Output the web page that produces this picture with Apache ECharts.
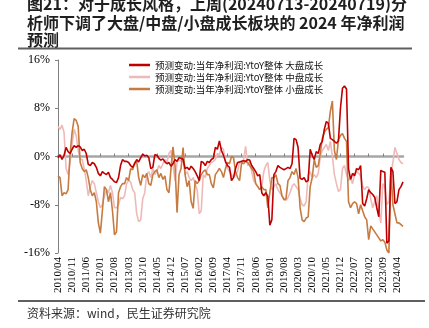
<!DOCTYPE html>
<html><head><meta charset="utf-8">
<script src="https://cdn.jsdelivr.net/npm/echarts@6/dist/echarts.min.js"></script>
<style>html,body{margin:0;padding:0;background:#fff}#c{width:429px;height:328px}</style>
</head><body><div id="c"></div>
<script>
const titleLines = ['图21：对于成长风格，上周(20240713-20240719)分', '析师下调了大盘/中盘/小盘成长板块的 2024 年净利润', '预测'];
const sourceText = '资料来源：wind，民生证券研究院';
const seriesNames = ['预测变动:当年净利润:YtoY整体 大盘成长', '预测变动:当年净利润:YtoY整体 中盘成长', '预测变动:当年净利润:YtoY整体 小盘成长'];
const yTicks = [-16, -8, 0, 8, 16];

// monthly categories 2010/04 .. 2024/07
const months = [];
for (let y = 2010, m = 4; months.length < 172; m++) {
  if (m > 12) { m = 1; y++; }
  months.push(y + '/' + (m < 10 ? '0' + m : m));
}

const largeGrowth = [
-0.2,0.3,-0.5,0.2,1.5,0.8,0.5,1.2,1.8,1.5,1.8,1.6,1.0,1.2,0.5,-1.3,-1.5,-1.0,-1.2,-1.8,
-2.8,-3.2,-2.5,-2.8,-3.0,-2.6,-3.5,-3.8,-4.2,-4.3,-3.5,-1.5,-0.5,-0.8,-0.8,-1.0,-1.5,-1.8,-1.2,-0.5,
-0.9,-0.2,0.4,0.1,0.2,-0.2,-2.0,-1.8,0.3,0.2,-0.3,-0.6,-0.4,-0.9,-1.2,-1.0,-1.6,-1.2,-0.5,-0.8,
-0.2,-0.3,-0.5,-2.0,-1.8,-2.2,-1.6,-2.0,-2.5,-3.2,-4.0,-0.8,-1.0,-1.5,-0.8,-1.0,-0.5,-0.3,1.5,1.2,
2.6,1.0,0.2,-0.8,-1.5,-1.8,-4.0,-3.5,-2.0,-1.0,-0.9,-0.8,-0.7,-0.8,-0.5,-0.6,-1.5,-2.0,-2.5,-3.2,
-3.0,-6.0,-6.5,-6.0,-6.6,-11.4,-10.5,-3.0,-2.5,-1.5,-1.8,-2.0,-2.2,-2.0,-1.8,-2.0,-1.2,3.0,2.8,1.5,
-3.6,-3.8,-3.5,-4.2,-4.0,1.2,0.2,-0.5,0.8,0.5,2.0,2.5,4.5,5.8,5.5,3.0,2.8,2.5,2.2,2.6,
8.0,11.3,11.7,11.2,-2.0,-3.8,-2.8,-3.2,-2.0,-2.2,-1.5,-7.8,-8.2,-7.0,-5.5,-6.0,-6.3,-6.8,-8.5,-10.0,
-2.3,-2.5,-2.6,-14.4,-14.0,-1.8,-2.5,-7.8,-7.5,-5.5,-5.0,-4.2
];
const midGrowth = [
5.0,4.5,5.2,4.0,-2.0,-3.0,-1.0,2.0,4.5,3.5,1.0,-0.5,-0.5,-2.0,-4.0,-6.5,-5.0,-4.0,-4.5,-6.0,
-7.5,-8.5,-8.0,-6.5,-5.5,-6.0,-4.8,-6.0,-8.5,-8.5,-8.0,-6.8,-7.0,-6.5,-4.5,-4.0,-4.2,-5.5,-6.0,-9.5,
-10.8,-10.5,-7.0,-6.0,-3.0,-2.5,-3.5,-2.0,-3.0,-2.5,-1.5,-2.0,-1.2,-0.5,-1.0,0.5,1.0,-1.5,-4.0,-1.0,
-0.5,-0.8,-0.3,-3.0,-2.5,-3.5,-4.0,-3.5,-4.5,-5.6,-9.5,-9.0,-3.0,-3.5,-2.0,-1.5,-1.0,-0.8,-0.5,0.5,
0.3,1.5,1.2,-1.0,-2.0,-2.5,-3.0,-3.5,-3.0,-2.5,-0.8,-1.0,-0.5,1.7,-1.5,-1.0,-2.5,-4.0,-4.5,-5.0,
-5.5,-5.0,-2.5,-1.5,-1.0,-4.0,-5.5,-5.0,-4.5,-5.5,-6.0,-6.5,-7.0,-7.3,-6.8,-6.0,-5.0,-4.5,-5.0,-5.5,
-7.0,-8.0,-8.2,-7.5,-3.0,-2.5,-3.5,-3.0,-3.5,-2.8,0.0,1.0,1.5,2.0,1.0,2.5,0.0,-3.0,-4.5,-5.8,
-5.5,-2.0,-1.5,-3.0,-4.0,-3.5,-4.5,-3.0,-2.5,-2.8,-3.2,-5.0,-5.5,-5.0,-5.2,-7.0,-8.5,-7.5,-6.5,-9.0,
-11.0,-4.5,-5.0,-8.0,-7.5,-3.0,-1.0,1.5,0.5,-0.5,-1.0,-1.2
];
const smallGrowth = [
-3.2,-3.5,-6.5,-6.0,-6.2,-5.5,0.5,4.0,6.3,6.0,5.0,-1.0,-2.0,-2.5,-2.2,-3.5,-5.5,-6.5,-6.0,-7.5,
-11.0,-12.7,-9.0,-5.0,-5.5,-7.5,-6.0,-9.0,-13.0,-12.5,-6.0,-5.0,-4.5,-4.5,-3.5,-4.0,-2.0,-2.2,-1.0,-0.8,
-3.5,-4.8,-3.0,-3.5,-2.8,-4.5,-4.8,-3.0,-2.5,-2.2,-3.5,-2.8,-3.8,-3.2,-5.5,-6.0,-2.0,1.6,-1.5,-9.3,
-3.0,-2.0,1.5,-3.0,-5.0,-4.0,-7.5,-8.6,-4.0,-4.5,-4.0,-3.0,-2.5,-2.2,-3.0,-3.0,-4.5,-5.2,-3.0,-2.5,
-2.0,-2.5,-3.5,-2.0,-1.0,-1.2,0.0,-0.2,-2.5,-3.5,-4.0,-1.0,-1.2,-0.8,-1.0,-1.5,-2.0,-2.5,-4.5,-5.0,
-5.5,-5.0,-5.5,-5.5,-8.5,-6.0,-3.5,-3.5,-3.0,-4.5,-4.8,-6.5,-7.2,-7.0,-4.0,-3.5,-2.5,-3.0,-2.0,-3.5,
-8.5,-10.5,-10.8,-10.2,-10.0,-5.0,-3.5,-0.5,-1.8,-1.5,0.5,3.0,4.0,4.5,4.8,7.5,9.2,1.0,-0.5,2.8,
3.5,3.8,3.0,2.5,-7.5,-8.5,-7.8,-7.5,-7.8,-9.5,-8.0,-9.0,-10.0,-10.5,-13.8,-11.5,-12.0,-12.5,-13.0,-13.5,
-14.0,-13.8,-14.2,-15.5,-16.0,-2.0,-8.0,-9.5,-11.0,-11.0,-11.3,-11.6
];

const colors = ['#C00000', '#F0B9B9', '#C67B41'];
const cjk = '"Noto Sans CJK SC", sans-serif';
const serif = '"Liberation Serif", serif';

const chart = echarts.init(document.getElementById('c'), null, {renderer: 'canvas'});
const graphic = [];
const titleY = [4, 23, 39.5];
titleLines.forEach((t, i) => graphic.push({
  type: 'text', x: 27, y: titleY[i], silent: true,
  style: {text: t, font: 'bold 16px ' + cjk, fill: '#1f1f1f', verticalAlign: 'middle', align: 'left'}
}));
graphic.push({type: 'line', shape: {x1: 18, y1: 48.5, x2: 412, y2: 48.5}, style: {stroke: '#5f5f5f', lineWidth: 2}});
graphic.push({type: 'line', shape: {x1: 18, y1: 301, x2: 425, y2: 301}, style: {stroke: '#5f5f5f', lineWidth: 2}});
graphic.push({type: 'text', x: 27, y: 313, style: {text: sourceText, font: '12px ' + cjk, fill: '#333', verticalAlign: 'middle'}});

const mk = (name, data, color, z) => ({
  name, type: 'line', data, showSymbol: false, symbol: 'none', z,
  lineStyle: {color, width: 1.6}, itemStyle: {color}, animation: false
});

chart.setOption({
  animation: false,
  color: colors,
  graphic,
  grid: {left: 58, right: 26, top: 60, bottom: 75},
  legend: {
    data: seriesNames, orient: 'vertical', left: 129, top: 59, padding: 0,
    icon: 'rect', itemWidth: 21, itemHeight: 2.5, itemGap: 0,
    textStyle: {fontFamily: cjk, fontSize: 9.5, lineHeight: 12, color: '#111'}
  },
  xAxis: [{
    type: 'category', data: months, boundaryGap: false, position: 'bottom',
    axisLine: {show: false, onZero: false}, axisTick: {show: false},
    axisLabel: {rotate: 90, interval: 6, fontFamily: serif, fontSize: 11, color: '#000', margin: 4},
    splitLine: {show: false}
  }, {
    type: 'category', data: months, boundaryGap: false, position: 'bottom',
    axisLine: {show: true, onZero: true, lineStyle: {color: '#a6a6a6', width: 2.5}},
    axisTick: {show: true, inside: true, length: 3, interval: 6, lineStyle: {color: '#808080'}},
    axisLabel: {show: false}, splitLine: {show: false}
  }],
  yAxis: {
    type: 'value', min: yTicks[0], max: yTicks[yTicks.length - 1], interval: 8,
    axisLine: {show: true, lineStyle: {color: '#808080', width: 1}},
    axisTick: {show: true, length: 3, lineStyle: {color: '#808080'}},
    splitLine: {show: false},
    axisLabel: {formatter: '{value}%', fontFamily: serif, fontSize: 12, color: '#000', margin: 8}
  },
  series: [
    mk(seriesNames[1], midGrowth, colors[1], 2),
    mk(seriesNames[2], smallGrowth, colors[2], 3),
    mk(seriesNames[0], largeGrowth, colors[0], 4)
  ]
});
</script></body></html>
